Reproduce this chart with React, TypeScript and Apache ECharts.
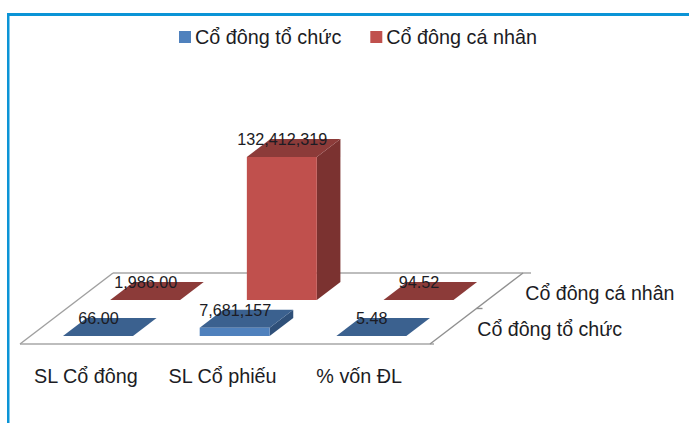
import React, { useEffect, useRef } from "react";
import * as echarts from "echarts";

const categories = ["SL Cổ đông", "SL Cổ phiếu", "% vốn ĐL"];
const seriesNames = ["Cổ đông tổ chức", "Cổ đông cá nhân"];
const institutionValues = [66, 7681157, 5.48];
const individualValues = [1986, 132412319, 94.52];
const institutionLabels = ["66.00", "7,681,157", "5.48"];
const individualLabels = ["1,986.00", "132,412,319", "94.52"];

const FONT = "Liberation Sans, Arial, sans-serif";
const INK = "#1c1c24";

// Oblique projection of the depth axis: screen pixels of rise and the run per pixel of rise.
const SLANT = 1.31;
const FLOOR_RISE = 71;
const BAR_RISE = 18;
const ROW_RISE = [8, 44];
const BAR_SHARE = 0.512;

const palette = [
  { front: "#4f81bd", top: "#3b618f", side: "#2f5079" },
  { front: "#c0504d", top: "#8c3b39", side: "#7b3230" },
];

function barRenderer(row: number, labels: string[]) {
  return (_params: any, api: any) => {
    const cat = api.value(0);
    const base = api.coord([cat, 0]);
    const tip = api.coord([cat, api.value(1)]);
    const band = api.size([1, 0])[0];
    const width = band * BAR_SHARE;
    const rise = ROW_RISE[row];
    const shift = rise * SLANT;
    const x0 = base[0] - width / 2 + shift - 0.8;
    const x1 = x0 + width;
    const yb = base[1] - rise;
    const yt = tip[1] - rise;
    const dx = BAR_RISE * SLANT;
    const c = palette[row];
    const children: any[] = [
      {
        type: "polygon",
        shape: { points: [[x1, yb], [x1 + dx, yb - BAR_RISE], [x1 + dx, yt - BAR_RISE], [x1, yt]] },
        style: { fill: c.side },
      },
      {
        type: "polygon",
        shape: { points: [[x0, yt], [x1, yt], [x1 + dx, yt - BAR_RISE], [x0 + dx, yt - BAR_RISE]] },
        style: { fill: c.top },
      },
      {
        type: "rect",
        shape: { x: x0, y: yt, width, height: yb - yt },
        style: { fill: c.front },
      },
      {
        type: "text",
        x: (x0 + x1) / 2 + 0.5,
        y: yt - BAR_RISE,
        style: {
          text: labels[cat],
          fill: INK,
          font: `16.2px ${FONT}`,
          align: "center",
          verticalAlign: "middle",
        },
      },
    ];
    return { type: "group", children };
  };
}

// Floor of the 3D plot, its depth ticks and the depth-axis row names.
function floorRenderer(_params: any, api: any) {
  const band = api.size([1, 0])[0];
  const left = api.coord([0, 0]);
  const right = api.coord([2, 0]);
  const xl = left[0] - band / 2;
  const xr = right[0] + band / 2;
  const y = left[1];
  const run = FLOOR_RISE * SLANT;
  const grey = "#bdbdbd";
  const line = (x1: number, y1: number, x2: number, y2: number, lineWidth: number, stroke = grey) => ({
    type: "line",
    shape: { x1, y1, x2, y2 },
    style: { stroke, lineWidth },
  });
  const midRise = FLOOR_RISE / 2;
  const children: any[] = [
    line(xl, y, xr + 4, y, 2),
    line(xl + run, y - FLOOR_RISE, xr + run + 8, y - FLOOR_RISE, 2),
    line(xl, y, xl + run, y - FLOOR_RISE, 1.4, "#a0a0a0"),
    line(xr, y, xr + run, y - FLOOR_RISE, 1.4, "#909090"),
    line(xr + midRise * SLANT, y - midRise, xr + midRise * SLANT + 6, y - midRise, 1.4, "#909090"),
  ];
  seriesNames.forEach((name, i) => {
    const rise = (i + 0.5) * midRise;
    children.push({
      type: "text",
      x: xr + rise * SLANT + 24 + i * 1.5,
      y: y - rise + 2.5,
      style: {
        text: name,
        fill: INK,
        font: `19.6px ${FONT}`,
        align: "left",
        verticalAlign: "middle",
      },
    });
  });
  return { type: "group", children };
}

export default function App() {
  const ref = useRef<HTMLDivElement>(null);

  useEffect(() => {
    document.body.style.margin = "0";
    const chart = echarts.init(ref.current!, undefined, { renderer: "svg" });
    chart.setOption({
      animation: false,
      backgroundColor: "#ffffff",
      graphic: [
        { type: "rect", shape: { x: 7, y: 13, width: 682, height: 3 }, style: { fill: "#0b94d6" } },
        { type: "rect", shape: { x: 7, y: 13, width: 2.5, height: 410 }, style: { fill: "#0b94d6" } },
      ],
      legend: {
        data: seriesNames,
        top: 22,
        left: 174,
        itemWidth: 12,
        itemHeight: 12,
        itemGap: 29,
        icon: "rect",
        textStyle: { fontFamily: FONT, fontSize: 19.8, color: INK, padding: [0, 0, 0, -1] },
      },
      grid: { left: 20, top: 182, width: 410, height: 162 },
      xAxis: {
        type: "category",
        data: categories,
        axisLine: { show: false },
        axisTick: { show: false },
        axisLabel: {
          interval: 0,
          margin: 22,
          fontFamily: FONT,
          fontSize: 19.8,
          color: INK,
          padding: [0, 5, 0, 0],
        },
      },
      yAxis: { type: "value", min: 0, max: 150000000, show: false },
      series: [
        {
          name: "floor",
          type: "custom",
          clip: false,
          z: 1,
          data: [[0, 0]],
          renderItem: floorRenderer,
          silent: true,
        },
        {
          name: seriesNames[0],
          type: "custom",
          clip: false,
          z: 3,
          itemStyle: { color: palette[0].front },
          data: institutionValues.map((v, i) => [i, v]),
          renderItem: barRenderer(0, institutionLabels),
        },
        {
          name: seriesNames[1],
          type: "custom",
          clip: false,
          z: 2,
          itemStyle: { color: palette[1].front },
          data: individualValues.map((v, i) => [i, v]),
          renderItem: barRenderer(1, individualLabels),
        },
      ],
    });
    return () => chart.dispose();
  }, []);

  return <div ref={ref} style={{ width: 689, height: 423 }} />;
}
